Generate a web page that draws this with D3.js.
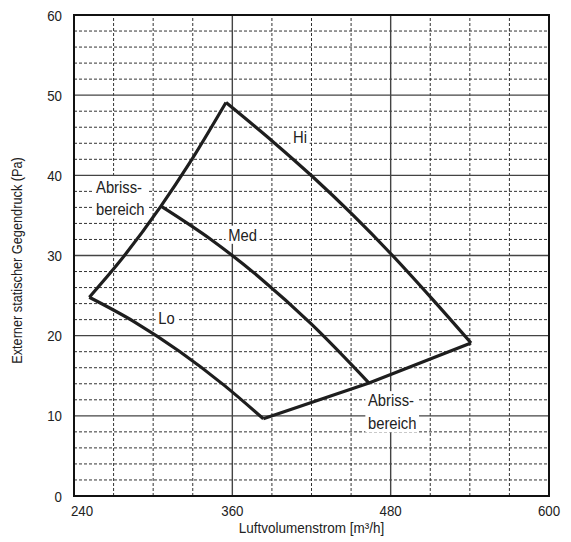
<!DOCTYPE html>
<html>
<head>
<meta charset="utf-8">
<script src="https://cdn.jsdelivr.net/npm/d3@7"></script>
<style>
  body { margin: 0; background: #fff; }
  svg { display: block; font-family: "Liberation Sans", Arial, sans-serif; }
</style>
</head>
<body>
<svg id="chart" width="571" height="542"></svg>
<script>
// axis setup
var xTicks = [240, 360, 480, 600]
var yTicks = [0, 10, 20, 30, 40, 50, 60]
var xMinor = d3.range(240, 601, 30)
var yMinor = d3.range(0, 61, 2)

// curves [airflow, pressure]
var stall = [[251.6, 24.79], [274.3, 29.18], [305.9, 36.16], [327.4, 41.48], [355.2, 49.09]]
var hi = [[355.2, 49.09], [390.8, 44.2], [421.1, 39.79], [451.5, 35.03], [480.3, 30.19], [512.1, 24.46], [540.9, 19.09]]
var med = [[305.9, 36.16], [343.8, 32.0], [381.7, 27.11], [419.6, 21.5], [463.6, 14.09]]
var lo = [[251.6, 24.79], [285.7, 21.73], [319.8, 18.06], [353.9, 13.8], [383.5, 9.63]]
var bottom = [[383.5, 9.63], [463.6, 14.09], [540.9, 19.09]]

// annotations
var labels = [
  {lines: ["Hi"], x: 411.3, y: 44.75, anchor: "middle"},
  {lines: ["Med"], x: 367.8, y: 32.6, anchor: "middle"},
  {lines: ["Lo"], x: 310.1, y: 22.25, anchor: "middle"},
  {lines: ["Abriss-", "bereich"], x: 256.7, y: 38.6, anchor: "start"},
  {lines: ["Abriss-", "bereich"], x: 462.8, y: 11.96, anchor: "start"}
]

var svg = d3.select("#chart")
var margin = {left: 74, top: 15, right: 22, bottom: 46}
var width = 571 - margin.left - margin.right
var height = 542 - margin.top - margin.bottom

var x = d3.scaleLinear().domain([240, 600]).range([margin.left, margin.left + width])
var y = d3.scaleLinear().domain([0, 60]).range([margin.top + height, margin.top])

var g = svg.append("g")

// narrow text: font is not condensed, so squeeze it
function label(parent, px, py, size, sx, anchor, rot) {
  return parent.append("g")
    .attr("transform", "translate(" + px + "," + py + ")" + (rot ? " rotate(" + rot + ")" : "") + " scale(" + sx + ",1)")
    .append("text")
    .attr("text-anchor", anchor)
    .attr("font-size", size).attr("fill", "#222")
}

// minor grid
g.selectAll(".vmin").data(xMinor.filter(function(d) { return d % 120 != 0 }))
  .enter().append("line")
  .attr("x1", x).attr("x2", x).attr("y1", y(0)).attr("y2", y(60))
  .attr("stroke", "#333").attr("stroke-width", 1).attr("stroke-dasharray", "3,2")

g.selectAll(".hmin").data(yMinor.filter(function(d) { return d % 10 != 0 }))
  .enter().append("line")
  .attr("y1", y).attr("y2", y).attr("x1", x(240)).attr("x2", x(600))
  .attr("stroke", "#333").attr("stroke-width", 1).attr("stroke-dasharray", "3,2")

// major grid
g.selectAll(".vmaj").data(xTicks)
  .enter().append("line")
  .attr("x1", x).attr("x2", x).attr("y1", y(0)).attr("y2", y(60))
  .attr("stroke", "#444").attr("stroke-width", 1.4)

g.selectAll(".hmaj").data(yTicks)
  .enter().append("line")
  .attr("y1", y).attr("y2", y).attr("x1", x(240)).attr("x2", x(600))
  .attr("stroke", "#444").attr("stroke-width", 1.4)

// frame
g.append("rect")
  .attr("x", x(240)).attr("y", y(60))
  .attr("width", x(600) - x(240)).attr("height", y(0) - y(60))
  .attr("fill", "none").attr("stroke", "#111").attr("stroke-width", 2)

// label boxes + text
labels.forEach(function(l) {
  var t = label(g, x(l.x), y(l.y), 17, 0.87, l.anchor)
  l.lines.forEach(function(s, i) {
    t.append("tspan").attr("x", 0).attr("dy", i == 0 ? "0.35em" : 23).text(s)
  })
  var b = t.node().getBBox()
  d3.select(t.node().parentNode).insert("rect", "text")
    .attr("x", b.x - 3).attr("y", b.y)
    .attr("width", b.width + 6).attr("height", b.height)
    .attr("fill", "#fff")
})

// curves
var curve = d3.line()
  .x(function(d) { return x(d[0]) })
  .y(function(d) { return y(d[1]) })
  .curve(d3.curveMonotoneX)

g.selectAll(".curve").data([stall, hi, med, lo])
  .enter().append("path")
  .attr("d", curve)
  .attr("fill", "none").attr("stroke", "#1e1e1e")
  .attr("stroke-width", 3.2).attr("stroke-linejoin", "miter")

g.append("path")
  .attr("d", curve.curve(d3.curveLinear)(bottom))
  .attr("fill", "none").attr("stroke", "#1e1e1e")
  .attr("stroke-width", 3.2).attr("stroke-linejoin", "miter")

// tick labels
xTicks.forEach(function(d, i) {
  label(svg, x(d) + (i == 0 ? 8 : 0), y(0) + 20, 15.5, 0.86, "middle").text(d)
})

yTicks.forEach(function(d) {
  label(svg, x(240) - 12, y(d) + 5.5, 15.5, 0.86, "end").text(d)
})

// axis titles
label(svg, (x(240) + x(600)) / 2, 533, 15, 0.9, "middle")
  .text("Luftvolumenstrom [m³/h]")

label(svg, 22, (y(0) + y(60)) / 2 + 5, 15, 0.85, "middle", -90)
  .text("Externer statischer Gegendruck (Pa)")
</script>
</body>
</html>
